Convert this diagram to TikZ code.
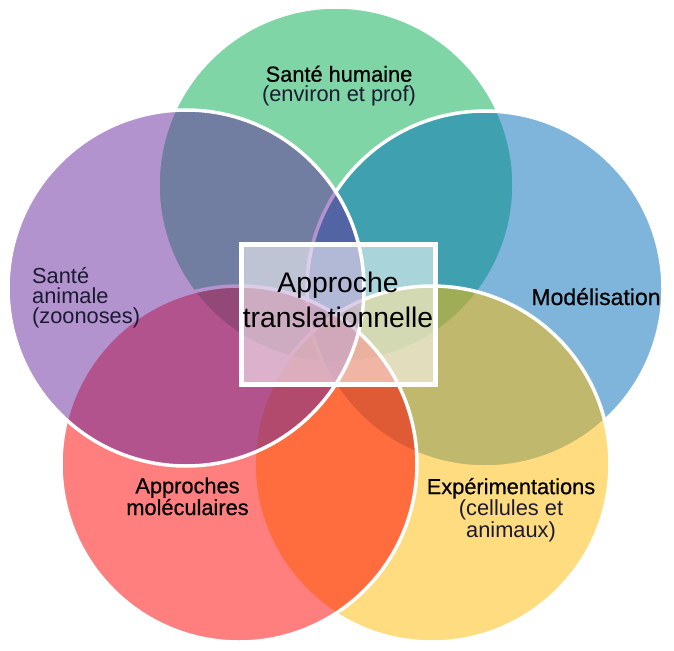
\documentclass[tikz,border=0pt]{standalone}
\usepackage{fontspec}
\setmainfont{Liberation Sans}
\definecolor{cgreen}{RGB}{0,173,79}
\definecolor{cblue}{RGB}{0,109,185}
\definecolor{cyellow}{RGB}{255,187,0}
\definecolor{cred}{RGB}{255,0,0}
\definecolor{cpurple}{RGB}{103,41,157}
\definecolor{navy}{RGB}{26,26,50}
\newcommand{\ttl}[1]{{\addfontfeature{FakeBold=0.6}#1}}
\begin{document}
\begin{tikzpicture}[x=1pt,y=-1pt,
  venn/.style={circle, minimum size=356pt, inner sep=0pt, fill opacity=0.5, draw=white, line width=3.5pt, draw opacity=1},
  lab/.style={font=\fontsize{21.8}{20}\selectfont, align=center, inner sep=0pt, anchor=base, text=black},
  midbox/.style={draw=white, line width=5pt, fill=white, fill opacity=0.55, text opacity=1, minimum width=194.3pt, minimum height=139.4pt, inner sep=0pt}]
\useasboundingbox (0,0) rectangle (674,650);
\fill[white] (0,0) rectangle (674,650);
\node[venn, fill=cgreen]  (green)  at (336,185) {};
\node[venn, fill=cblue]   (blue)   at (485,289) {};
\node[venn, fill=cyellow] (yellow) at (432,464) {};
\node[venn, fill=cred]    (red)    at (239,464) {};
\node[venn, fill=cpurple] (purple) at (186,288) {};
\node[midbox] (box) at (338.65,314.5) {};
\node[font=\fontsize{28.3}{34.7}\selectfont, align=center, inner sep=0pt, anchor=base] (center) at (338,327.3) {Approche\\translationnelle};
\node[lab] (lgreen) at (339,101.7) {\ttl{Santé humaine}\\{\color{navy}(environ et prof)}};
\node[lab, align=left, anchor=base west] (lpurple) at (32,323.3) {{\color{navy}Santé}\\{\color{navy}animale}\\{\color{navy}(zoonoses)}};
\node[lab, font=\fontsize{23}{20}\selectfont] (lblue) at (596,305) {\ttl{Modélisation}};
\node[lab, font=\fontsize{21.8}{21.7}\selectfont] (lred) at (187.5,515) {\ttl{Approches}\\\ttl{moléculaires}};
\node[lab, font=\fontsize{21.8}{21.8}\selectfont] (lyellow) at (511,537.7) {\ttl{Expérimentations}\\{\color{navy}(cellules et}\\{\color{navy}animaux)}};
\end{tikzpicture}
\end{document}
